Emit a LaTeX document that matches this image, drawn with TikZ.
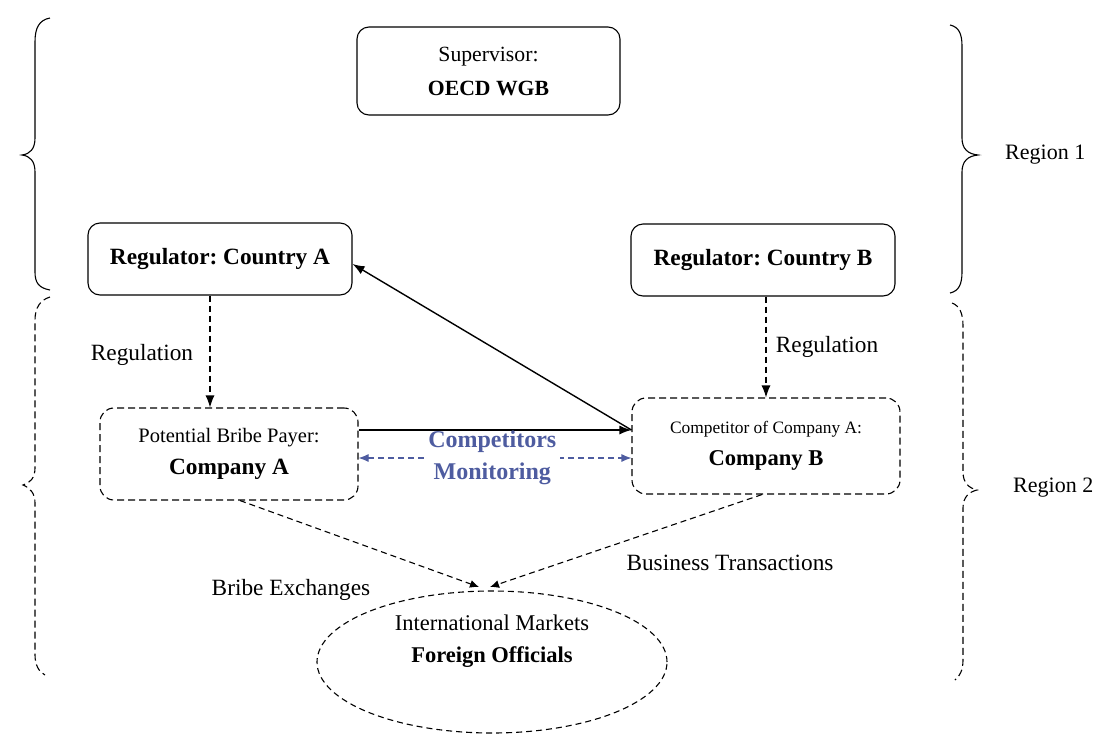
\documentclass[tikz,border=0pt]{standalone}
\usepackage{fontspec}
\setmainfont{Liberation Serif}
\usetikzlibrary{arrows.meta,shapes.geometric}
\definecolor{monblue}{RGB}{78,92,160}
\tikzset{
  solidbox/.style={draw, line width=1.1pt, rounded corners=12pt, align=center},
  dashbox/.style={draw, line width=1.1pt, rounded corners=14pt, align=center, dash pattern=on 7pt off 4pt},
  dashln/.style={line width=1.1pt, dash pattern=on 6pt off 4pt},
  arr/.style={-{Latex[length=12pt,width=9pt]}},
  sarr/.style={-{Latex[length=9pt,width=8pt]}},
  lbl/.style={font=\fontsize{23.3}{28}\selectfont, inner sep=0pt},
  brace/.style={line width=1.1pt},
  dbrace/.style={line width=1.1pt, dash pattern=on 7pt off 4pt},
}
\newcommand{\nfont}{\fontsize{23.3}{32}\selectfont}
\frenchspacing
\begin{document}
\begin{tikzpicture}[x=1pt,y=-1pt]
\useasboundingbox (0,0) rectangle (1106,737);
% boxes
\node[solidbox, minimum width=263pt, minimum height=88pt, font=\fontsize{21.7}{34}\selectfont] (sup) at (488.5,71) {Supervisor:\\\textbf{OECD WGB}};
\node[solidbox, minimum width=264pt, minimum height=72pt, font=\nfont] (regA) at (220,259) {\textbf{Regulator: Country A}};
\node[solidbox, minimum width=264pt, minimum height=72pt, font=\nfont] (regB) at (763,260) {\textbf{Regulator: Country B}};
\node[dashbox, minimum width=258pt, minimum height=92pt, font=\nfont] (compA) at (229,454) {{\fontsize{20.5}{32}\selectfont Potential Bribe Payer:}\\\textbf{Company A}};
\node[dashbox, minimum width=268pt, minimum height=96pt, font=\fontsize{22.6}{32}\selectfont] (compB) at (766,446) {{\fontsize{17.4}{32}\selectfont Competitor of Company A:}\\\textbf{Company B}};
\node[draw, ellipse, dashln, minimum width=350pt, minimum height=142pt] (mkt) at (492,662) {};
\node[align=center, font=\fontsize{22.5}{32}\selectfont] (mkttext) at (492,641) {International Markets\\\textbf{Foreign Officials}};
% regulation arrows
\draw[dashln, arr] ([xshift=-10pt]regA.south) -- ([xshift=-19pt]compA.north);
\draw[dashln, arr] ([xshift=3pt]regB.south) -- ([xshift=0pt]compB.north);
\node[lbl] (regl1) at (142,355) {Regulation};
\node[lbl] (regl2) at (827,347) {Regulation};
% solid arrows
\draw[line width=1.4pt, arr] ([yshift=24pt]compA.east) -- ([yshift=16pt]compB.west);
\draw[line width=1.4pt, arr] ([yshift=16pt]compB.west) -- ([yshift=-5pt]regA.east);
% monitoring
\draw[monblue, dashln, {Latex[length=10pt,width=8pt]}-{Latex[length=10pt,width=8pt]}] ([yshift=-4pt]compA.east) -- ([yshift=-12pt]compB.west)
  node[pos=0.49, fill=white, inner xsep=4pt, inner ysep=0pt, align=center, text=monblue, font=\fontsize{24}{32}\selectfont\bfseries] (mon) {Competitors\\Monitoring};
% market arrows
\coordinate (mA) at (479,587);
\coordinate (mB) at (490,587);
\draw[dashln, sarr] ([xshift=11pt]compA.south) -- (mA);
\draw[dashln, sarr] ([xshift=-4pt]compB.south) -- (mB);
\node[lbl] (bribe) at (291,590) {Bribe Exchanges};
\node[lbl] (bus) at (730,563) {Business Transactions};
% braces
\draw[brace] (50,18) .. controls (39,20) and (35,28) .. (35,42) -- (35,138) .. controls (35,149) and (30,154) .. (22,155) .. controls (30,156) and (35,161) .. (35,172) -- (35,272) .. controls (35,283) and (39,288) .. (50,290);
\draw[dbrace] (50,297) .. controls (40,300) and (35,308) .. (35,320) -- (35,468) .. controls (35,478) and (30,483) .. (23,485) .. controls (30,488) and (35,493) .. (35,503) -- (35,655) .. controls (35,665) and (39,672) .. (45,675);
\draw[brace] (950,25) .. controls (959,27) and (962,34) .. (962,46) -- (962,138) .. controls (962,149) and (968,154) .. (978,155) .. controls (968,156) and (962,161) .. (962,172) -- (962,272) .. controls (962,284) and (959,291) .. (950,293);
\draw[dbrace] (952,303) .. controls (960,306) and (963,314) .. (963,326) -- (963,472) .. controls (963,483) and (969,488) .. (977,490) .. controls (969,492) and (963,497) .. (963,508) -- (963,660) .. controls (963,670) and (960,676) .. (955,680);
\node[lbl, anchor=west, font=\fontsize{22}{26}\selectfont] (r1) at (1005,155) {Region 1};
\node[lbl, anchor=west, font=\fontsize{22}{26}\selectfont] (r2) at (1013,488) {Region 2};
\end{tikzpicture}
\end{document}
